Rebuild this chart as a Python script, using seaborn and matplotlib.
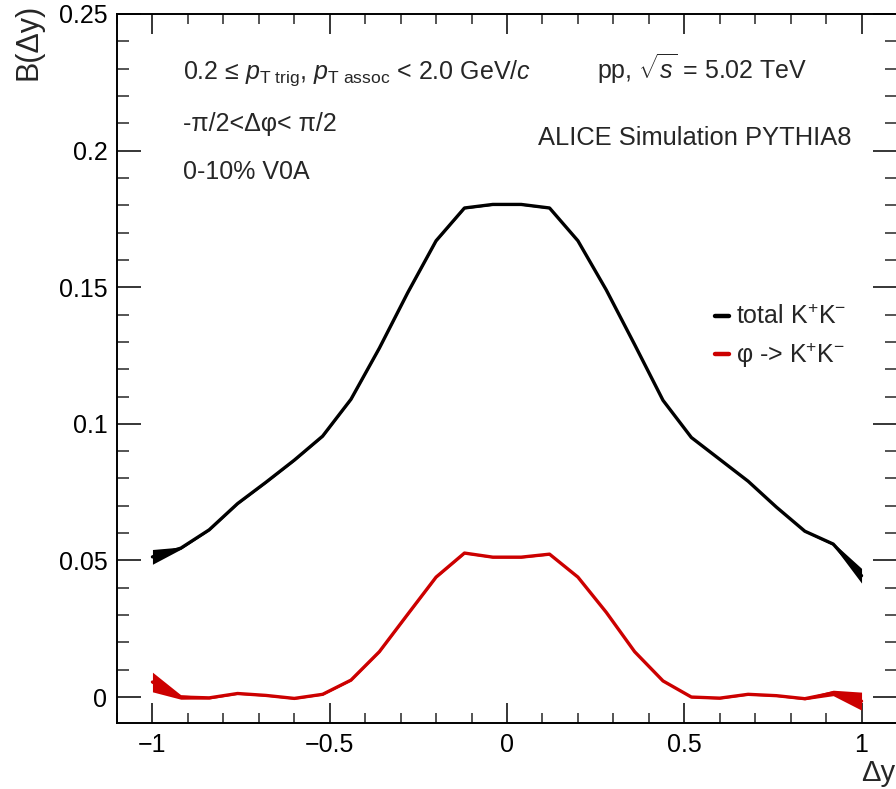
import matplotlib
matplotlib.use("Agg")
import matplotlib.pyplot as plt
import seaborn as sns
import pandas as pd
from matplotlib.ticker import MultipleLocator

# ---------------- data ----------------
dy = [-1.00, -0.92, -0.84, -0.76, -0.68, -0.60, -0.52, -0.44, -0.36, -0.28, -0.20, -0.12, -0.04,
      0.04, 0.12, 0.20, 0.28, 0.36, 0.44, 0.52, 0.60, 0.68, 0.76, 0.84, 0.92, 1.00]

total_kk = [0.0513, 0.0545, 0.0612, 0.0708, 0.0786, 0.0867, 0.0955, 0.1090, 0.1277, 0.1480, 0.1670, 0.1790, 0.1803,
            0.1803, 0.1790, 0.1670, 0.1490, 0.1290, 0.1086, 0.0950, 0.0870, 0.0790, 0.0695, 0.0607, 0.0560, 0.0444]
total_err = [0.0027, 0.0004, 0.0003, 0.0003, 0.0003, 0.0003, 0.0003, 0.0003, 0.0003, 0.0003, 0.0003, 0.0003, 0.0003,
             0.0003, 0.0003, 0.0003, 0.0003, 0.0003, 0.0003, 0.0003, 0.0003, 0.0003, 0.0003, 0.0003, 0.0005, 0.0027]

phi_kk = [0.0055, 0.0000, -0.0003, 0.0013, 0.0006, -0.0005, 0.0010, 0.0062, 0.0166, 0.0303, 0.0439, 0.0527, 0.0512,
          0.0512, 0.0523, 0.0439, 0.0310, 0.0166, 0.0059, 0.0000, -0.0004, 0.0010, 0.0005, -0.0006, 0.0015, -0.0015]
phi_err = [0.0036, 0.0008, 0.0004, 0.0003, 0.0003, 0.0003, 0.0003, 0.0003, 0.0003, 0.0003, 0.0003, 0.0003, 0.0003,
           0.0003, 0.0003, 0.0003, 0.0003, 0.0003, 0.0003, 0.0003, 0.0003, 0.0003, 0.0003, 0.0004, 0.0010, 0.0033]

series_names = ["total K$^{+}$K$^{-}$", "\u03c6 -> K$^{+}$K$^{-}$"]
series_colors = ["#000000", "#cc0000"]

x_ticks = [-1, -0.5, 0, 0.5, 1]
x_tick_labels = ["\u22121", "\u22120.5", "0", "0.5", "1"]
y_ticks = [0, 0.05, 0.1, 0.15, 0.2, 0.25]
y_tick_labels = ["0", "0.05", "0.1", "0.15", "0.2", "0.25"]

# ---------------- style ----------------
sns.set_style("ticks")
plt.rcParams["font.family"] = ["Liberation Sans", "DejaVu Sans"]
plt.rcParams["mathtext.fontset"] = "custom"
plt.rcParams["mathtext.rm"] = "Liberation Sans"
plt.rcParams["mathtext.it"] = "Liberation Sans:italic"
plt.rcParams["mathtext.bf"] = "Liberation Sans:bold"

W, H = 896, 789
fig = plt.figure(figsize=(W / 100, H / 100), dpi=100)
ax = fig.add_axes([117 / W, 1 - 723 / H, (897 - 117) / W, (723 - 14) / H])

df = pd.concat([
    pd.DataFrame({"dy": dy, "B": total_kk, "series": series_names[0]}),
    pd.DataFrame({"dy": dy, "B": phi_kk, "series": series_names[1]}),
], ignore_index=True)

palette = dict(zip(series_names, series_colors))
sns.lineplot(data=df, x="dy", y="B", hue="series", palette=palette, ax=ax,
             linewidth=2.4, errorbar=None, estimator=None, sort=False)

for vals, errs, col in [(total_kk, total_err, series_colors[0]), (phi_kk, phi_err, series_colors[1])]:
    lo = [v - e for v, e in zip(vals, errs)]
    hi = [v + e for v, e in zip(vals, errs)]
    ax.fill_between(dy, lo, hi, color=col, linewidth=0)

ax.set_xlim(-1.1, 1.1)
ax.set_ylim(-0.0095, 0.25)
ax.set_xticks(x_ticks)
ax.set_xticklabels(x_tick_labels)
ax.set_yticks(y_ticks)
ax.set_yticklabels(y_tick_labels)
ax.xaxis.set_minor_locator(MultipleLocator(0.1))
ax.yaxis.set_minor_locator(MultipleLocator(0.01))
ax.set_xlabel("")
ax.set_ylabel("")

for s in ax.spines.values():
    s.set_linewidth(1.4)
    s.set_color("black")
    s.set_visible(True)

ax.tick_params(axis="x", which="major", direction="in", length=14.4, width=1.1, top=True, bottom=True,
               labelsize=18, pad=7, colors="black")
ax.tick_params(axis="x", which="minor", direction="in", length=7.2, width=1.1, top=True, bottom=True)
ax.tick_params(axis="y", which="major", direction="in", length=17.3, width=1.1, left=True, right=True,
               labelsize=18, pad=7, colors="black")
ax.tick_params(axis="y", which="minor", direction="in", length=8.6, width=1.1, left=True, right=True)


def ftext(px, py, s, **kw):
    fig.text(px / W, 1 - py / H, s, **kw)


fs = 18
ftext(183, 79, "0.2 \u2264 $p_{\\rm T\\ trig}$, $p_{\\rm T\\ assoc}$ < 2.0 GeV/$c$", fontsize=fs, va="baseline", ha="left")
ftext(597, 79, r"pp, $\sqrt{s}$ = 5.02 TeV", fontsize=fs, va="baseline", ha="left")
ftext(183, 131, "-\u03c0/2<\u0394\u03c6< \u03c0/2", fontsize=fs, va="baseline", ha="left")
ftext(851, 145, "ALICE Simulation PYTHIA8", fontsize=18.4, va="baseline", ha="right")
ftext(183, 179, "0-10% V0A", fontsize=fs, va="baseline", ha="left")

ftext(28, 4, "B(\u0394y)", fontsize=22, rotation=90, ha="center", va="top")
ftext(895, 773, "\u0394y", fontsize=21, ha="right", va="center")

handles, labels = ax.get_legend_handles_labels()
leg = ax.legend(handles, labels, loc="upper left", bbox_to_anchor=(715 / W, 1 - 305 / H),
                bbox_transform=fig.transFigure, frameon=False, fontsize=fs,
                handlelength=0.55, handletextpad=0.3, labelspacing=0.45, borderpad=0, borderaxespad=0)
for line in leg.get_lines():
    line.set_linewidth(3.2)

fig.savefig("out.png", dpi=100)
